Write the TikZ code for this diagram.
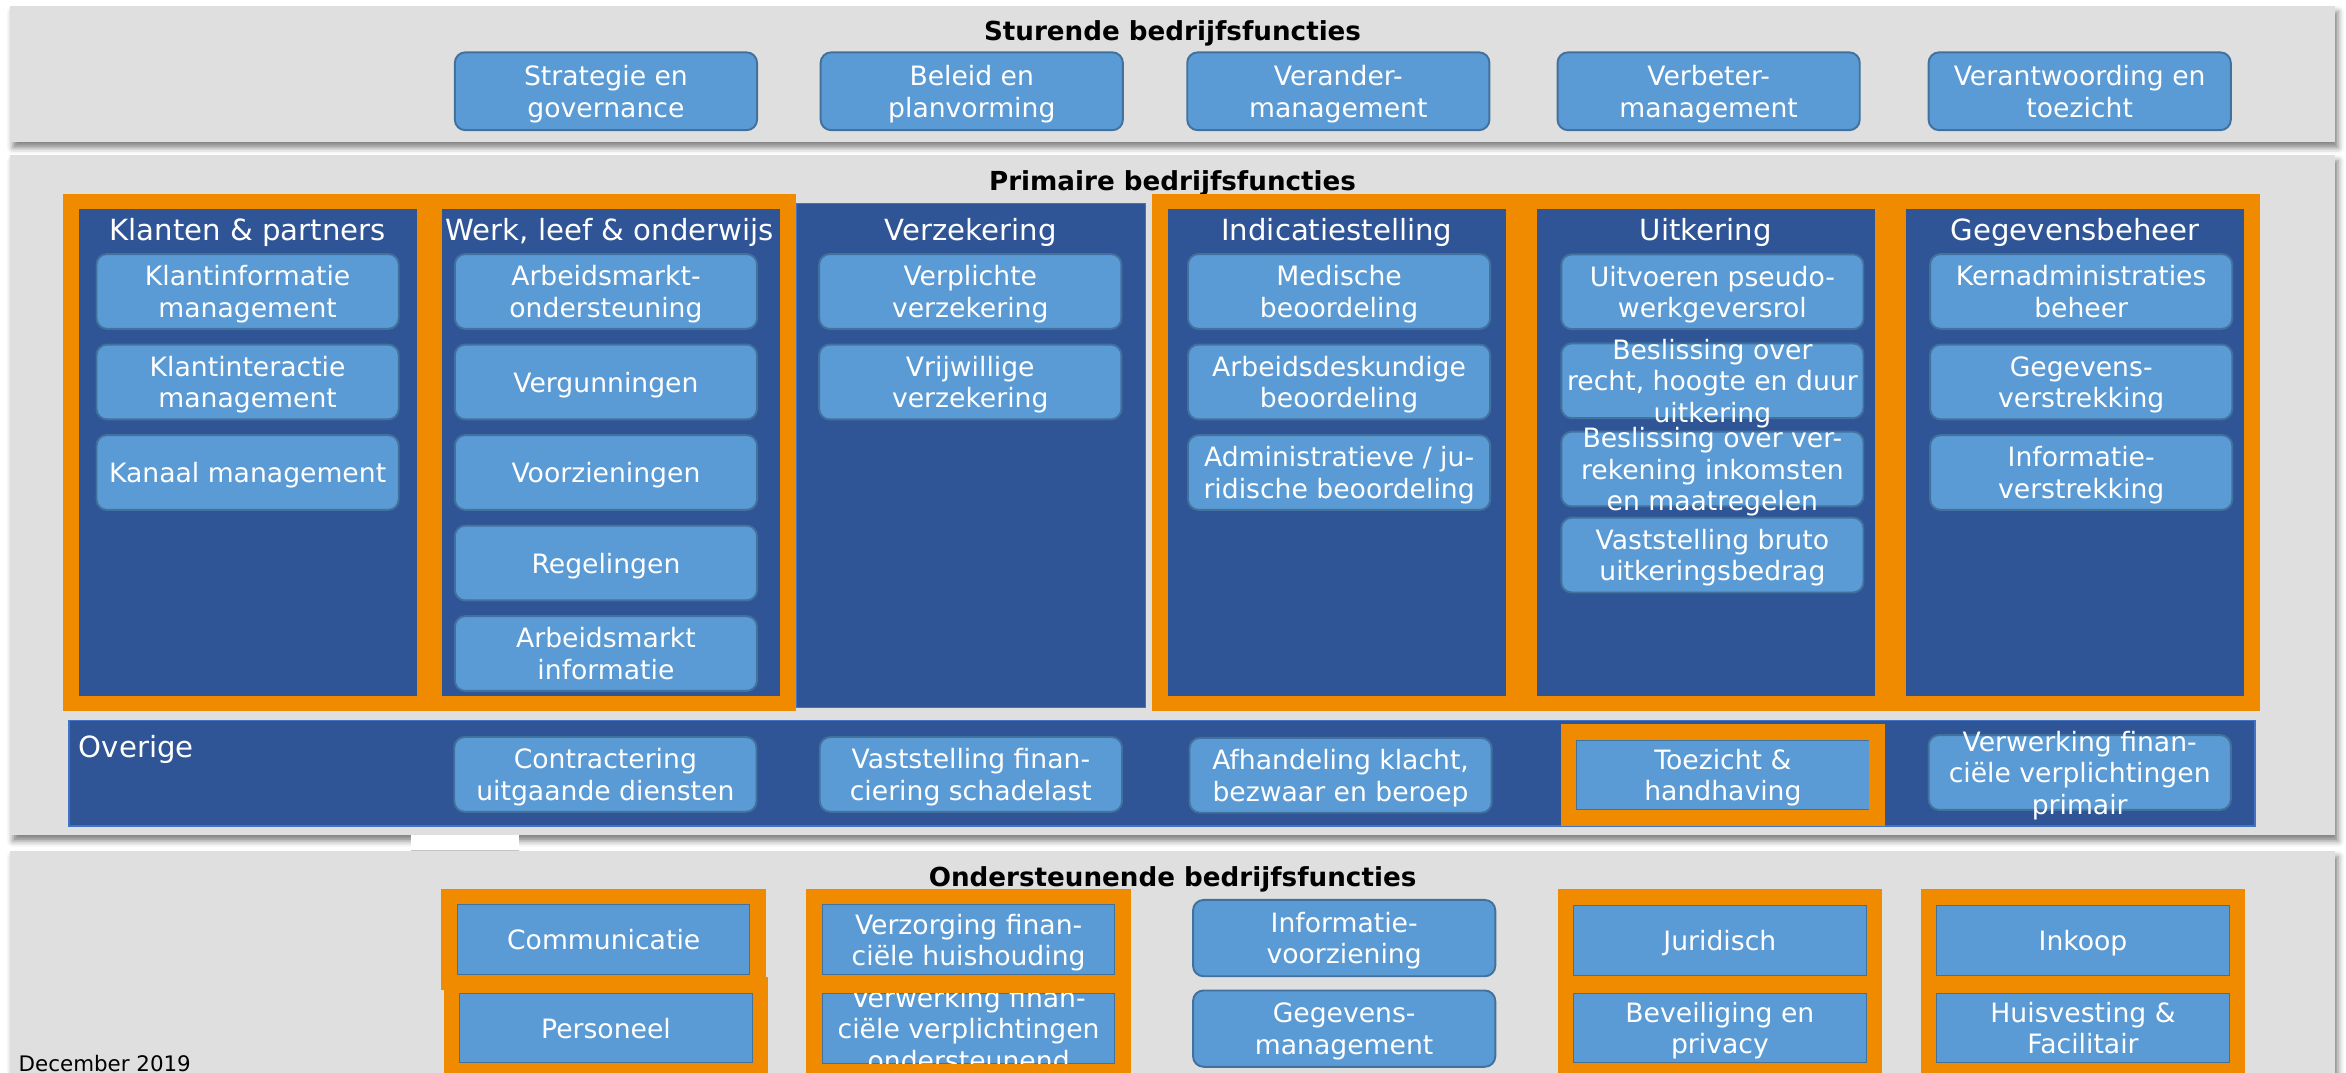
\documentclass[tikz,border=0pt]{standalone}
\usepackage{fontspec}
\setmainfont{DejaVu Sans}
\usetikzlibrary{positioning, fit, shadows.blur}

\definecolor{panelgray}{RGB}{223,223,223}
\definecolor{darkblue}{RGB}{47,85,151}
\definecolor{lightblue}{RGB}{91,155,213}
\definecolor{boxborder}{RGB}{65,113,156}
\definecolor{colborder}{RGB}{68,114,196}
\definecolor{framegold}{RGB}{240,139,0}

\newcommand{\boxfont}{\fontsize{17.8pt}{21pt}\selectfont}
\newcommand{\headfont}{\fontsize{19.5pt}{23pt}\selectfont}
\newcommand{\titlefont}{\bfseries\fontsize{17.5pt}{21pt}\selectfont}

\tikzstyle{panel} = [rectangle, fill=panelgray, minimum width=1554pt, inner sep=0pt, outer sep=0pt, blur shadow={shadow xshift=2pt, shadow yshift=-4pt, shadow blur radius=4pt, shadow opacity=50}]
\tikzstyle{paneltitle} = [font=\titlefont, text=black, anchor=base, inner sep=0pt]
\tikzstyle{column} = [rectangle, fill=darkblue, minimum width=226pt, minimum height=325pt, inner sep=0pt, outer sep=0pt]
\tikzstyle{coltitle} = [font=\headfont, text=white, anchor=base, inner sep=0pt]
\tikzstyle{rowbar} = [rectangle, fill=darkblue, draw=colborder, line width=1pt, minimum width=1461pt, minimum height=70.3pt, inner sep=0pt, outer sep=0pt]
\tikzstyle{fnbox} = [rectangle, rounded corners=7pt, fill=lightblue, draw=boxborder, line width=1.3pt, minimum width=202pt, minimum height=50pt, inner sep=0pt, outer sep=0pt, text=white, align=center, font=\boxfont, text depth=0pt]
\tikzstyle{framedbox} = [fnbox, sharp corners, minimum width=196pt, minimum height=47pt]
\tikzstyle{boxtext} = [text=white, align=center, font=\boxfont, inner sep=0pt, text depth=0pt]
\tikzstyle{oframe} = [rectangle, draw=framegold, line width=10.5pt, inner sep=5.25pt]

\begin{document}
\begin{tikzpicture}[x=1pt, y=-1pt, node distance=60.5pt]
\useasboundingbox (0,0) rectangle (1568,717);

% sturende bedrijfsfuncties
\node (sturend) [panel, minimum height=90.7pt] at (783.7,49.35) {};
\node (sturendT) [paneltitle] at (783.7,27.2) {Sturende bedrijfsfuncties};
\node (strat) [fnbox, minimum height=52pt] at (405,61) {Strategie en\\governance};
\node (beleid) [fnbox, minimum height=52pt] at (649.5,61) {Beleid en\\planvorming};
\node (verander) [fnbox, minimum height=52pt] at (894.5,61) {Verander-\\management};
\node (verbeter) [fnbox, minimum height=52pt] at (1142,61) {Verbeter-\\management};
\node (verantw) [fnbox, minimum height=52pt] at (1390,61) {Verantwoording en\\toezicht};

% primaire bedrijfsfuncties
\node (primair) [panel, minimum height=454.5pt] at (783.7,330.75) {};
\fill[white] (275,558) rectangle (347,568.6);
\node (primairT) [paneltitle] at (783.7,127) {Primaire bedrijfsfuncties};

\node (klant) [column] at (165.5,302.5) {};
\node (werk) [column] at (408.5,302.5) {};
\node (verzek) [column, draw=colborder, line width=1pt, minimum width=233.5pt, minimum height=337pt] at (648.75,304.5) {};
\node (indic) [column] at (893.5,302.5) {};
\node (uitk) [column] at (1140,302.5) {};
\node (gegev) [column] at (1387,302.5) {};

\node (klantT) [coltitle] at (165.5,161) {Klanten \& partners};
\node (werkT) [coltitle] at (407.5,161) {Werk, leef \& onderwijs};
\node (verzekT) [coltitle] at (648.75,161) {Verzekering};
\node (indicT) [coltitle] at (893.5,161) {Indicatiestelling};
\node (uitkT) [coltitle] at (1140,161) {Uitkering};
\node (gegevT) [coltitle] at (1387,161) {Gegevensbeheer};

\node (kl1) [fnbox] at (165.5,194.8) {Klantinformatie\\management};
\node (kl2) [fnbox, below of=kl1] {Klantinteractie\\management};
\node (kl3) [fnbox, below of=kl2] {Kanaal management};

\node (wk1) [fnbox] at (405,194.8) {Arbeidsmarkt-\\ondersteuning};
\node (wk2) [fnbox, below of=wk1] {Vergunningen};
\node (wk3) [fnbox, below of=wk2] {Voorzieningen};
\node (wk4) [fnbox, below of=wk3] {Regelingen};
\node (wk5) [fnbox, below of=wk4] {Arbeidsmarkt\\informatie};

\node (vz1) [fnbox] at (648.5,194.8) {Verplichte\\verzekering};
\node (vz2) [fnbox, below of=vz1] {Vrijwillige\\verzekering};

\node (ind1) [fnbox] at (895,194.8) {Medische\\beoordeling};
\node (ind2) [fnbox, below of=ind1] {Arbeidsdeskundige\\beoordeling};
\node (ind3) [fnbox, below of=ind2] {Administratieve / ju-\\ridische beoordeling};

\node (uit1) [fnbox] at (1144.5,195) {Uitvoeren pseudo-\\werkgeversrol};
\node (uit2) [fnbox, below of=uit1, yshift=1pt] {};
\node (uit2txt) [boxtext] at (uit2) {Beslissing over\\recht, hoogte en duur\\uitkering};
\node (uit3) [fnbox, below of=uit2, yshift=1.5pt] {};
\node (uit3txt) [boxtext] at (uit3) {Beslissing over ver-\\rekening inkomsten\\en maatregelen};
\node (uit4) [fnbox, below of=uit3, yshift=3pt] {Vaststelling bruto\\uitkeringsbedrag};

\node (gg1) [fnbox] at (1391,194.8) {Kernadministraties\\beheer};
\node (gg2) [fnbox, below of=gg1] {Gegevens-\\verstrekking};
\node (gg3) [fnbox, below of=gg2] {Informatie-\\verstrekking};

% oranje kaders
\node (klantF) [oframe, fit=(klant)] {};
\node (werkF) [oframe, fit=(werk)] {};
\node (indicF) [oframe, fit=(indic)] {};
\node (uitkF) [oframe, fit=(uitk)] {};
\node (gegevF) [oframe, fit=(gegev)] {};

% overige
\node (overig) [rowbar] at (776.5,516.85) {};
\node (overigT) [coltitle, anchor=base west] at (52.5,506) {Overige};
\node (contr) [fnbox] at (404.6,517.6) {Contractering\\uitgaande diensten};
\node (vastst) [fnbox] at (648.9,517.6) {Vaststelling finan-\\ciering schadelast};
\node (afhand) [fnbox] at (896,518.2) {Afhandeling klacht,\\bezwaar en beroep};
\node (toez) [framedbox] at (1151.5,518) {Toezicht \&\\handhaving};
\node (toezF) [oframe, fit=(toez)] {};
\node (verwp) [fnbox] at (1390,516.3) {};
\node (verwptxt) [boxtext] at (verwp) {Verwerking finan-\\ciële verplichtingen\\primair};

% ondersteunende bedrijfsfuncties
\node (onderst) [panel, minimum height=171.4pt] at (783.7,654.3) {};
\node (onderstT) [paneltitle] at (783.7,592.6) {Ondersteunende bedrijfsfuncties};

\node (comm) [framedbox] at (403.5,628) {Communicatie};
\node (pers) [framedbox, below of=comm, xshift=1.5pt, yshift=1.5pt] {Personeel};
\node (finh) [framedbox] at (647.4,628) {Verzorging finan-\\ciële huishouding};
\node (fino) [framedbox, below of=finh, yshift=1pt] {};
\node (finotxt) [boxtext] at (fino) {Verwerking finan-\\ciële verplichtingen\\ondersteunend};
\node (infov) [fnbox, minimum height=51pt] at (898.4,627) {Informatie-\\voorziening};
\node (gegm) [fnbox, minimum height=51pt, below of=infov] {Gegevens-\\management};
\node (jur) [framedbox] at (1149.5,628.5) {Juridisch};
\node (bev) [framedbox, below of=jur, yshift=2pt] {Beveiliging en\\privacy};
\node (ink) [framedbox] at (1392.2,628.5) {Inkoop};
\node (huis) [framedbox, below of=ink, yshift=2pt] {Huisvesting \&\\Facilitair};

\node (commF) [oframe, fit=(comm)] {};
\node (persF) [oframe, fit=(pers)] {};
\node (finhF) [oframe, fit=(finh)] {};
\node (finoF) [oframe, fit=(fino)] {};
\node (jurF) [oframe, fit=(jur)] {};
\node (bevF) [oframe, fit=(bev)] {};
\node (inkF) [oframe, fit=(ink)] {};
\node (huisF) [oframe, fit=(huis)] {};

\node (datum) [font=\fontsize{14.3pt}{17pt}\selectfont, anchor=base west, inner sep=0pt] at (12.3,716) {December 2019};

\end{tikzpicture}
\end{document}
